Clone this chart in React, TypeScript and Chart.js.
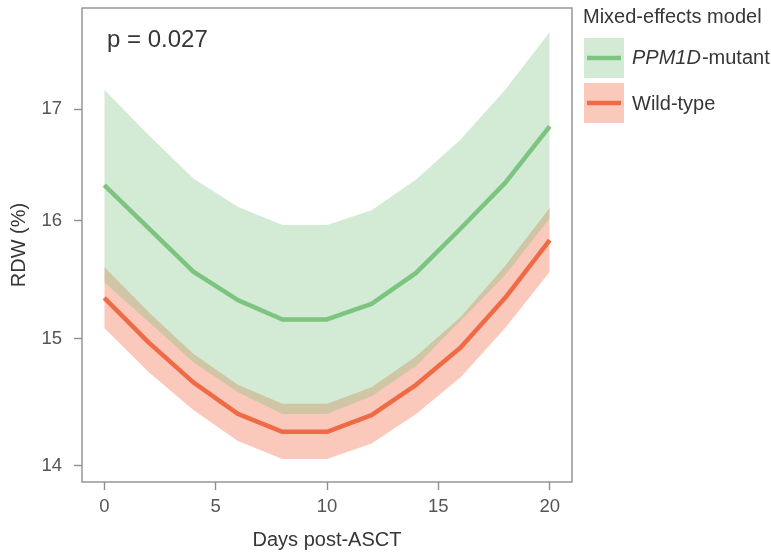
import React, { useEffect, useRef } from "react";
import { Chart, registerables } from "chart.js";

Chart.register(...registerables);

// ---- data ----
const days = [0, 2, 4, 6, 8, 10, 12, 14, 16, 18, 20];

const mutantFit = [16.31, 15.93, 15.56, 15.32, 15.16, 15.16, 15.29, 15.55, 15.93, 16.33, 16.84];
const mutantUpper = [17.18, 16.76, 16.37, 16.12, 15.96, 15.96, 16.09, 16.36, 16.72, 17.18, 17.73];
const mutantLower = [15.47, 15.14, 14.81, 14.57, 14.4, 14.4, 14.54, 14.78, 15.15, 15.53, 16.02];

const wildFit = [15.34, 14.97, 14.65, 14.4, 14.26, 14.26, 14.39, 14.63, 14.93, 15.34, 15.83];
const wildUpper = [15.6, 15.22, 14.88, 14.63, 14.48, 14.48, 14.61, 14.86, 15.18, 15.61, 16.11];
const wildLower = [15.09, 14.73, 14.43, 14.19, 14.05, 14.05, 14.17, 14.4, 14.69, 15.09, 15.56];

const xTicks = [0, 5, 10, 15, 20];
const yTicks = [14, 15, 16, 17];

const xTitle = "Days post-ASCT";
const yTitle = "RDW (%)";
const pLabel = "p = 0.027";
const legendTitle = "Mixed-effects model";
const mutantLabelItalic = "PPM1D";
const mutantLabelRest = "-mutant";
const wildLabel = "Wild-type";

// ---- styles ----
const FONT = "'Liberation Sans', Arial, Helvetica, sans-serif";
const GREEN_LINE = "#7cc47f";
const GREEN_FILL = "rgba(118,192,121,0.32)";
const RED_LINE = "#ef6b45";
const RED_FILL = "rgba(240,104,66,0.36)";
const FRAME = "#8f8f8f";
const TICK_TEXT = "#555555";
const TEXT = "#363636";

const pts = (ys: number[]) => days.map((d, i) => ({ x: d, y: ys[i] }));

const overlayPlugin = {
  id: "overlay",
  afterDraw(chart: any) {
    const { ctx, chartArea } = chart;
    const { left, right, top, bottom } = chartArea;
    ctx.save();
    // panel frame
    ctx.strokeStyle = FRAME;
    ctx.lineWidth = 1.4;
    ctx.strokeRect(left, top, right - left, bottom - top);

    // p value
    ctx.fillStyle = TEXT;
    ctx.font = `24px ${FONT}`;
    ctx.textAlign = "left";
    ctx.textBaseline = "alphabetic";
    ctx.fillText(pLabel, 107, 47);

    // x title
    ctx.font = `20px ${FONT}`;
    ctx.textAlign = "center";
    ctx.fillText(xTitle, (left + right) / 2, 546);

    // y title
    ctx.save();
    ctx.translate(25, (top + bottom) / 2);
    ctx.rotate(-Math.PI / 2);
    ctx.textAlign = "center";
    ctx.fillText(yTitle, 0, 0);
    ctx.restore();

    // legend
    const lx = 584;
    ctx.textAlign = "left";
    ctx.fillStyle = TEXT;
    ctx.font = `20px ${FONT}`;
    ctx.fillText(legendTitle, lx - 1, 23);

    const keys = [
      { y: 38, fill: GREEN_FILL, line: GREEN_LINE },
      { y: 83, fill: RED_FILL, line: RED_LINE },
    ];
    keys.forEach((k) => {
      ctx.fillStyle = k.fill;
      ctx.fillRect(lx, k.y, 40, 40);
      ctx.strokeStyle = k.line;
      ctx.lineWidth = 4.5;
      ctx.beginPath();
      ctx.moveTo(lx + 3, k.y + 20);
      ctx.lineTo(lx + 37, k.y + 20);
      ctx.stroke();
    });

    ctx.fillStyle = TEXT;
    ctx.font = `italic 20px ${FONT}`;
    ctx.fillText(mutantLabelItalic, 632, 64);
    const w = ctx.measureText(mutantLabelItalic).width;
    ctx.font = `20px ${FONT}`;
    ctx.fillText(mutantLabelRest, 632 + w + 1, 64);
    ctx.fillText(wildLabel, 632, 110);
    ctx.restore();
  },
};

export default function App() {
  const ref = useRef<HTMLCanvasElement | null>(null);

  useEffect(() => {
    if (!ref.current) return;
    const band = {
      borderColor: "rgba(0,0,0,0)",
      borderWidth: 0,
      pointRadius: 0,
      tension: 0,
    };
    const line = {
      borderWidth: 4.5,
      pointRadius: 0,
      tension: 0,
      fill: false,
      borderJoinStyle: "round" as const,
    };
    const chart = new Chart(ref.current, {
      type: "line",
      data: {
        datasets: [
          { ...line, label: "PPM1D-mutant", data: pts(mutantFit), borderColor: GREEN_LINE },
          { ...line, label: "Wild-type", data: pts(wildFit), borderColor: RED_LINE },
          { ...band, label: "mu", data: pts(mutantUpper), fill: "+1", backgroundColor: GREEN_FILL },
          { ...band, label: "ml", data: pts(mutantLower), fill: false },
          { ...band, label: "wu", data: pts(wildUpper), fill: "+1", backgroundColor: RED_FILL },
          { ...band, label: "wl", data: pts(wildLower), fill: false },
        ],
      },
      options: {
        animation: false,
        responsive: false,
        maintainAspectRatio: false,
        layout: { padding: { left: 0, top: 8, right: 199, bottom: 0 } },
        plugins: {
          legend: { display: false },
          tooltip: { enabled: false },
        },
        scales: {
          x: {
            type: "linear",
            min: -1,
            max: 21,
            afterBuildTicks: (s: any) => {
              s.ticks = xTicks.map((v) => ({ value: v }));
            },
            afterFit: (s: any) => {
              s.height = 73;
              s.paddingLeft = 0;
              s.paddingRight = 0;
            },
            border: { display: false },
            grid: {
              drawOnChartArea: false,
              drawTicks: true,
              tickLength: 8,
              tickColor: FRAME,
              tickWidth: 1.4,
            },
            ticks: {
              padding: 6,
              color: TICK_TEXT,
              font: { family: FONT, size: 18.5 },
              maxRotation: 0,
              callback: (v: any) => String(v),
            },
          },
          y: {
            type: "logarithmic",
            min: 13.876,
            max: 17.962,
            bounds: "data",
            afterBuildTicks: (s: any) => {
              s.ticks = yTicks.map((v) => ({ value: v }));
            },
            afterFit: (s: any) => {
              s.width = 82;
              s.paddingTop = 0;
              s.paddingBottom = 0;
            },
            border: { display: false },
            grid: {
              drawOnChartArea: false,
              drawTicks: true,
              tickLength: 8,
              tickColor: FRAME,
              tickWidth: 1.4,
            },
            ticks: {
              padding: 12,
              color: TICK_TEXT,
              font: { family: FONT, size: 18.5 },
              callback: (v: any) => String(v),
            },
          },
        },
      } as any,
      plugins: [overlayPlugin],
    });
    return () => chart.destroy();
  }, []);

  return (
    <div style={{ position: "fixed", left: 0, top: 0, width: 771, height: 555, background: "#fff" }}>
      <canvas ref={ref} width={771} height={555} style={{ width: 771, height: 555, display: "block" }} />
    </div>
  );
}
